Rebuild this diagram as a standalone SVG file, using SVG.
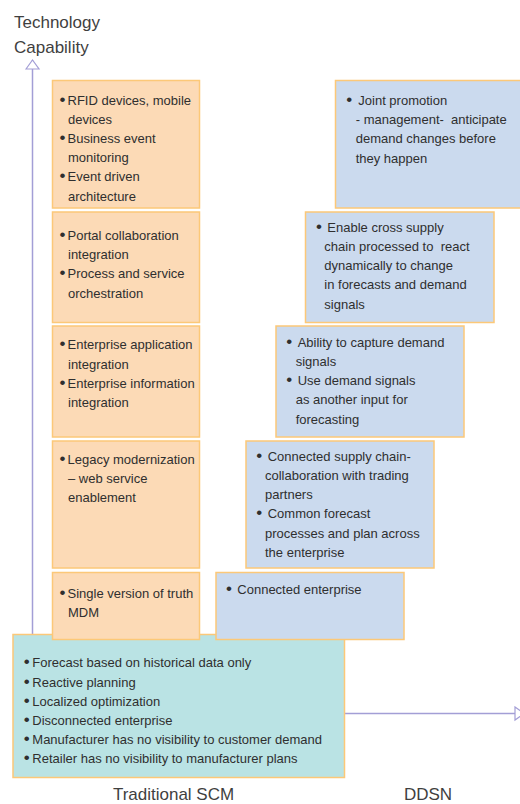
<svg xmlns="http://www.w3.org/2000/svg" width="520" height="804" viewBox="0 0 520 804">
<defs>
<style>
.t{font-family:"Liberation Sans",Arial,sans-serif;font-size:13px;fill:#2f2f2f}
.b{font-size:17px}
.h{font-family:"Liberation Sans",Arial,sans-serif;font-size:17px;fill:#3f3f3f}
.o{fill:#fcdab6;stroke:#fcc878;stroke-width:1.5}
.u{fill:#cbdaee;stroke:#fcc878;stroke-width:1.5}
.g{fill:#bae3e4;stroke:#fcc878;stroke-width:1.5}
.ax{stroke:#a39ed6;stroke-width:1.5;fill:none}
</style>
<marker id="arr" markerUnits="userSpaceOnUse" markerWidth="12" markerHeight="16" viewBox="-1 -1 12 16" refX="9" refY="6.5" orient="auto">
<path d="M0,0 L9,6.5 L0,13 Z" fill="#ffffff" stroke="#a39ed6" stroke-width="1.2"/>
</marker>
</defs>
<rect width="520" height="804" fill="#ffffff"/>
<g id="title">
<text class="h" x="14" y="28">Technology</text>
<text class="h" x="14" y="53">Capability</text>
</g>
<g id="connectors">
<line class="ax" x1="32.5" y1="640" x2="32.5" y2="60" marker-end="url(#arr)"/>
<line class="ax" x1="344" y1="713.5" x2="524" y2="713.5" marker-end="url(#arr)"/>
</g>
<g id="traditional">
<rect class="g" x="13" y="634.5" width="331.5" height="143"/>
<text class="t" y="667.3"><tspan class="b" x="23.7">•</tspan><tspan x="32.3">Forecast based on historical data only</tspan></text>
<text class="t" y="686.5"><tspan class="b" x="23.7">•</tspan><tspan x="32.3">Reactive planning</tspan></text>
<text class="t" y="705.7"><tspan class="b" x="23.7">•</tspan><tspan x="32.3">Localized optimization</tspan></text>
<text class="t" y="724.9"><tspan class="b" x="23.7">•</tspan><tspan x="32.3">Disconnected enterprise</tspan></text>
<text class="t" y="744.1"><tspan class="b" x="23.7">•</tspan><tspan x="32.3">Manufacturer has no visibility to customer demand</tspan></text>
<text class="t" y="763.3"><tspan class="b" x="23.7">•</tspan><tspan x="32.3">Retailer has no visibility to manufacturer plans</tspan></text>
</g>
<g id="o1">
<rect class="o" x="52.5" y="80.5" width="147" height="127.5"/>
<text class="t" y="104.5"><tspan class="b" x="59.5">•</tspan><tspan x="67.5">RFID devices, mobile</tspan></text>
<text class="t" x="68" y="123.7">devices</text>
<text class="t" y="142.9"><tspan class="b" x="59.5">•</tspan><tspan x="67.5">Business event</tspan></text>
<text class="t" x="68" y="162.1">monitoring</text>
<text class="t" y="181.3"><tspan class="b" x="59.5">•</tspan><tspan x="67.5">Event driven</tspan></text>
<text class="t" x="68" y="200.5">architecture</text>
</g>
<g id="o2">
<rect class="o" x="52.5" y="212" width="147" height="110.5"/>
<text class="t" y="240"><tspan class="b" x="59.5">•</tspan><tspan x="67.5">Portal collaboration</tspan></text>
<text class="t" x="68" y="259.2">integration</text>
<text class="t" y="278.4"><tspan class="b" x="59.5">•</tspan><tspan x="67.5">Process and service</tspan></text>
<text class="t" x="68" y="297.6">orchestration</text>
</g>
<g id="o3">
<rect class="o" x="52.5" y="326" width="147" height="111"/>
<text class="t" y="349.3"><tspan class="b" x="59.5">•</tspan><tspan x="67.5">Enterprise application</tspan></text>
<text class="t" x="68" y="368.5">integration</text>
<text class="t" y="387.7"><tspan class="b" x="59.5">•</tspan><tspan x="67.5">Enterprise information</tspan></text>
<text class="t" x="68" y="406.9">integration</text>
</g>
<g id="o4">
<rect class="o" x="52.5" y="441" width="147" height="127"/>
<text class="t" y="463.7"><tspan class="b" x="59.5">•</tspan><tspan x="67.5">Legacy modernization</tspan></text>
<text class="t" x="68" y="482.9">– web service</text>
<text class="t" x="68" y="502.1">enablement</text>
</g>
<g id="o5">
<rect class="o" x="52.5" y="572.5" width="147" height="67"/>
<text class="t" y="597.7"><tspan class="b" x="59.5">•</tspan><tspan x="67.5">Single version of truth</tspan></text>
<text class="t" x="68" y="616.9">MDM</text>
</g>
<g id="b1">
<rect class="u" x="216" y="572.5" width="188" height="67"/>
<text class="t" y="594"><tspan class="b" x="226">•</tspan><tspan x="237.3">Connected enterprise</tspan></text>
</g>
<g id="b2">
<rect class="u" x="246" y="441" width="188" height="127"/>
<text class="t" y="460.7"><tspan class="b" x="256.3">•</tspan><tspan x="267.7">Connected supply chain-</tspan></text>
<text class="t" x="265" y="479.9">collaboration with trading</text>
<text class="t" x="265" y="499.1">partners</text>
<text class="t" y="518.3"><tspan class="b" x="256.3">•</tspan><tspan x="267.7">Common forecast</tspan></text>
<text class="t" x="265" y="537.5">processes and plan across</text>
<text class="t" x="265" y="556.7">the enterprise</text>
</g>
<g id="b3">
<rect class="u" x="276" y="326" width="188" height="111"/>
<text class="t" y="346.7"><tspan class="b" x="286.3">•</tspan><tspan x="297.7">Ability to capture demand</tspan></text>
<text class="t" x="295.7" y="365.9">signals</text>
<text class="t" y="385.1"><tspan class="b" x="286.3">•</tspan><tspan x="297.7">Use demand signals</tspan></text>
<text class="t" x="295.7" y="404.3">as another input for</text>
<text class="t" x="295.7" y="423.5">forecasting</text>
</g>
<g id="b4">
<rect class="u" x="305.5" y="212" width="188.5" height="110.5"/>
<text class="t" y="231.7"><tspan class="b" x="316">•</tspan><tspan x="327.3">Enable cross supply</tspan></text>
<text class="t" x="324.3" y="250.9" xml:space="preserve">chain processed to  react</text>
<text class="t" x="324.3" y="270.1">dynamically to change</text>
<text class="t" x="324.3" y="289.3">in forecasts and demand</text>
<text class="t" x="324.3" y="308.5">signals</text>
</g>
<g id="b5">
<rect class="u" x="335.5" y="80.5" width="200" height="127.5"/>
<text class="t" y="105"><tspan class="b" x="346.3">•</tspan><tspan x="358.3">Joint promotion</tspan></text>
<text class="t" x="355.7" y="124.2" xml:space="preserve">- management-  anticipate</text>
<text class="t" x="355.7" y="143.4">demand changes before</text>
<text class="t" x="355.7" y="162.6">they happen</text>
</g>
<g id="labels">
<text class="h" x="173.5" y="800" text-anchor="middle">Traditional SCM</text>
<text class="h" x="428" y="800" text-anchor="middle">DDSN</text>
</g>
</svg>
